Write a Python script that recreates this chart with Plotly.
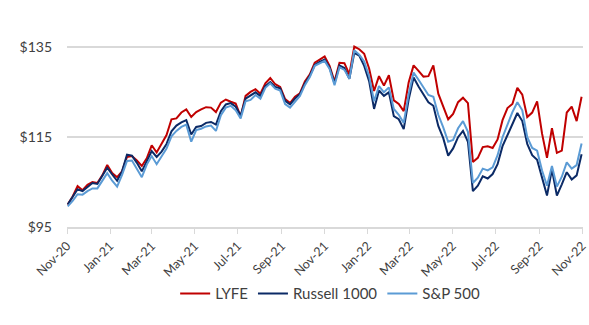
import pandas as pd
import plotly.graph_objects as go

dates = pd.date_range("2020-11-02", periods=105, freq="7D")

lyfe = [100.0, 101.8, 104.1, 103.2, 104.4, 105.0, 104.8, 106.5, 108.8, 107.0,
        106.1, 107.4, 110.6, 110.8, 109.8, 108.6, 110.3, 113.2, 111.6, 113.6,
        115.5, 119.0, 119.2, 120.5, 121.2, 119.5, 120.6, 121.2, 121.7, 121.6,
        120.6, 122.7, 123.4, 122.9, 122.5, 119.6, 124.2, 125.1, 125.7, 124.7,
        127.0, 128.2, 126.8, 126.2, 123.5, 122.6, 124.0, 124.8, 127.4, 129.0,
        131.6, 132.3, 133.0, 130.9, 127.4, 131.6, 131.5, 129.0, 135.2, 134.6,
        133.6, 130.3, 125.3, 128.6, 126.5, 128.8, 123.2, 122.4, 120.8, 127.2,
        131.0, 129.8, 128.5, 128.6, 131.0, 124.7, 122.0, 119.0, 120.2, 122.8,
        123.8, 122.6, 109.5, 110.4, 112.8, 113.0, 112.6, 114.5, 118.8, 121.5,
        122.4, 126.0, 124.5, 119.5, 120.5, 123.0, 115.8, 110.4, 117.0, 111.5,
        112.0, 120.5, 121.8, 118.6, 124.0]

russell = [100.0, 101.7, 103.4, 103.0, 104.0, 104.8, 104.6, 106.3, 108.2, 106.7,
           105.3, 107.4, 111.1, 110.9, 109.3, 107.4, 109.8, 111.9, 110.6, 111.8,
           113.5, 116.3, 117.6, 118.3, 118.8, 115.6, 117.3, 117.5, 118.2, 118.4,
           117.8, 120.8, 122.3, 122.6, 121.8, 119.8, 123.6, 124.3, 125.0, 124.2,
           126.4, 127.3, 126.2, 125.9, 123.1, 122.3, 123.6, 124.6, 127.0, 128.7,
           131.1, 131.8, 132.3, 130.5, 127.0, 131.0, 130.4, 128.0, 133.8, 133.2,
           130.9, 127.5, 121.3, 125.4, 124.2, 125.0, 119.7, 119.0, 116.8, 123.4,
           128.3, 126.3, 124.6, 122.8, 122.0, 117.5, 114.8, 110.9, 112.5, 115.0,
           116.4, 114.0, 103.0, 104.2, 106.3, 105.8, 106.8, 109.0, 113.0, 115.5,
           118.0, 120.4, 118.6, 113.5, 111.0, 110.0, 106.0, 102.0, 107.8, 102.0,
           104.5, 107.2, 105.6, 106.5, 111.2]

sp500 = [99.6, 100.8, 102.3, 102.2, 103.0, 103.6, 103.6, 105.4, 107.0, 105.3,
         104.0, 106.6, 109.7, 109.8, 108.0, 106.1, 108.9, 110.8, 109.0, 110.8,
         112.5, 115.2, 116.4, 117.3, 117.8, 114.0, 116.6, 116.9, 117.4, 117.6,
         116.4, 119.9, 121.6, 122.0, 121.0, 119.2, 123.0, 123.3, 124.4, 123.6,
         126.0, 127.0, 125.8, 125.4, 122.4, 121.6, 122.8, 124.2, 126.6, 128.4,
         130.9, 131.5, 132.0, 130.2, 126.6, 130.6, 130.0, 128.0, 134.4, 133.4,
         131.9, 128.6, 123.0, 126.4, 125.0, 126.1, 121.3, 120.0, 118.2, 124.6,
         129.4, 127.8, 126.0, 124.4, 124.0, 120.0, 117.2, 114.0, 114.4, 117.0,
         118.6, 116.2, 104.8, 106.0, 108.0, 107.6, 108.3, 111.0, 115.0, 118.0,
         120.6, 122.8, 121.0, 115.0, 112.6, 112.0, 107.6, 104.2, 108.6, 104.0,
         106.2, 109.4, 108.0, 108.8, 113.6]

series = [("LYFE", lyfe, "#C00000"),
          ("Russell 1000", russell, "#0B2A66"),
          ("S&P 500", sp500, "#5B9BD5")]

y_ticks = [95, 115, 135]
y_labels = ["$95", "$115", "$135"]
x_ticks = pd.date_range("2020-11-01", "2022-11-01", freq="2MS")
x_labels = [d.strftime("%b-%y") for d in x_ticks]

fig = go.Figure()
for name, vals, color in series:
    fig.add_trace(go.Scatter(x=dates, y=vals, mode="lines", name=name,
                             line=dict(color=color, width=2)))

font_family = "Lato, Open Sans, sans-serif"
fig.update_layout(
    width=589, height=325,
    margin=dict(l=67, r=6, t=25, b=98, autoexpand=False),
    paper_bgcolor="white", plot_bgcolor="white",
    font=dict(family=font_family, color="#404040", size=13),
    legend=dict(orientation="h", x=0.51, xanchor="center", y=-0.33, yanchor="middle",
                font=dict(size=15, color="#404040"), traceorder="normal"),
    showlegend=True,
)
fig.update_xaxes(
    type="date", range=["2020-11-01", "2022-11-02"], automargin=False,
    tickvals=x_ticks, ticktext=x_labels, tickangle=-45,
    ticklabeloverflow="allow",
    showgrid=False, showline=True, linecolor="#D9D9D9", linewidth=1.5,
    ticks="outside", ticklen=5, tickcolor="#D9D9D9",
    tickfont=dict(size=12.5, color="#404040"),
)
fig.update_yaxes(
    range=[95, 140], tickvals=y_ticks, ticktext=y_labels, automargin=False,
    showgrid=True, gridcolor="#D9D9D9", gridwidth=1.5, zeroline=False,
    showline=False, ticks="", ticklabelstandoff=14,
    tickfont=dict(size=14, color="#404040"),
)

fig.write_html("out.html")
